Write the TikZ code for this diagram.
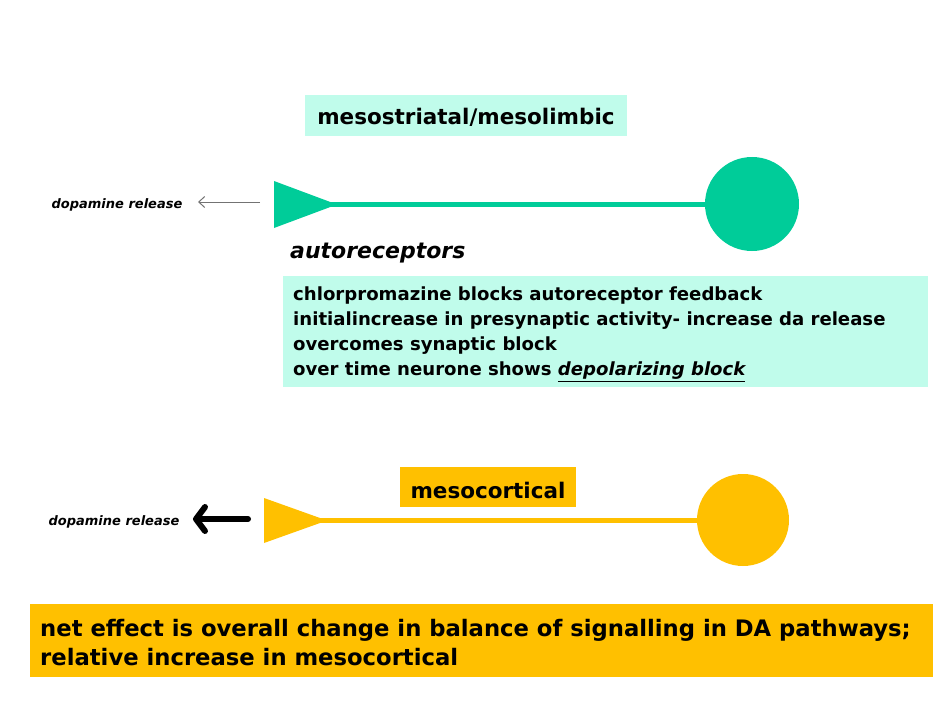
\documentclass[tikz,border=0pt]{standalone}
\usepackage{fontspec}
\setmainfont{DejaVu Sans}
\usetikzlibrary{arrows.meta}
\definecolor{cyanbox}{HTML}{C0FCEB}
\definecolor{neurgreen}{HTML}{00CC99}
\definecolor{neurorange}{HTML}{FFC000}
\tikzset{
  lbl/.style={inner sep=0, font=\bfseries\fontsize{21.5}{25}\selectfont},
  drlbl/.style={inner sep=0, font=\bfseries\itshape\fontsize{13}{15}\selectfont},
  body/.style={inner sep=0, align=left, anchor=north west, font=\bfseries\fontsize{18.1}{25}\selectfont},
  axon/.style={line width=5pt},
}
\begin{document}
\begin{tikzpicture}[x=1pt,y=-1pt]
\useasboundingbox (0,0) rectangle (940,706);
% ---- upper pathway
\fill[cyanbox] (305,95) rectangle (627,136);
\node[lbl] (title1) at (466,117) {mesostriatal/mesolimbic};
\fill[neurgreen] (274,181) -- (337,204.5) -- (274,228) -- cycle;
\coordinate (tip1) at (330,204.5);
\node[circle, fill=neurgreen, minimum size=94pt, inner sep=0] (soma1) at (752,204) {};
\draw[neurgreen, axon] (tip1) -- (tip1 -| soma1.center);
\node[drlbl] (dr1) at (117,205) {dopamine release};
\coordinate (a1s) at (260,202);
\coordinate (a1e) at (198,202);
\draw[gray!90!black, line width=1pt, -{Straight Barb[length=6pt,width=11pt]}] (a1s) -- (a1e);
\node[lbl, font=\bfseries\itshape\fontsize{22}{26}\selectfont, anchor=west] (auto) at (290,253) {autoreceptors};
\fill[cyanbox] (283,276) rectangle (928,387);
\node[body] (text1) at (293,287) {chlorpromazine blocks autoreceptor feedback\\
initialincrease in presynaptic activity- increase da release\\
overcomes synaptic block\\
over time neurone shows \underline{\itshape depolarizing block}};
% ---- lower pathway
\fill[neurorange] (400,467) rectangle (576,507);
\node[lbl] (title2) at (488,490) {mesocortical};
\fill[neurorange] (264,498) -- (327,520.5) -- (264,543) -- cycle;
\coordinate (tip2) at (320,520.5);
\node[circle, fill=neurorange, minimum size=92pt, inner sep=0] (soma2) at (743,520) {};
\draw[neurorange, axon] (tip2) -- (tip2 -| soma2.center);
\node[drlbl] (dr2) at (114,522) {dopamine release};
\coordinate (a2s) at (248,519);
\coordinate (a2e) at (193,519);
\draw[black, line width=6pt, line cap=round, -{Straight Barb[length=9pt,width=24pt,round]}] (a2s) -- (a2e);
\fill[neurorange] (30,604) rectangle (933,677);
\node[body, font=\bfseries\fontsize{22.7}{29}\selectfont] (net) at (40,619) {net effect is overall change in balance of signalling in DA pathways;\\
relative increase in mesocortical};
\end{tikzpicture}
\end{document}
